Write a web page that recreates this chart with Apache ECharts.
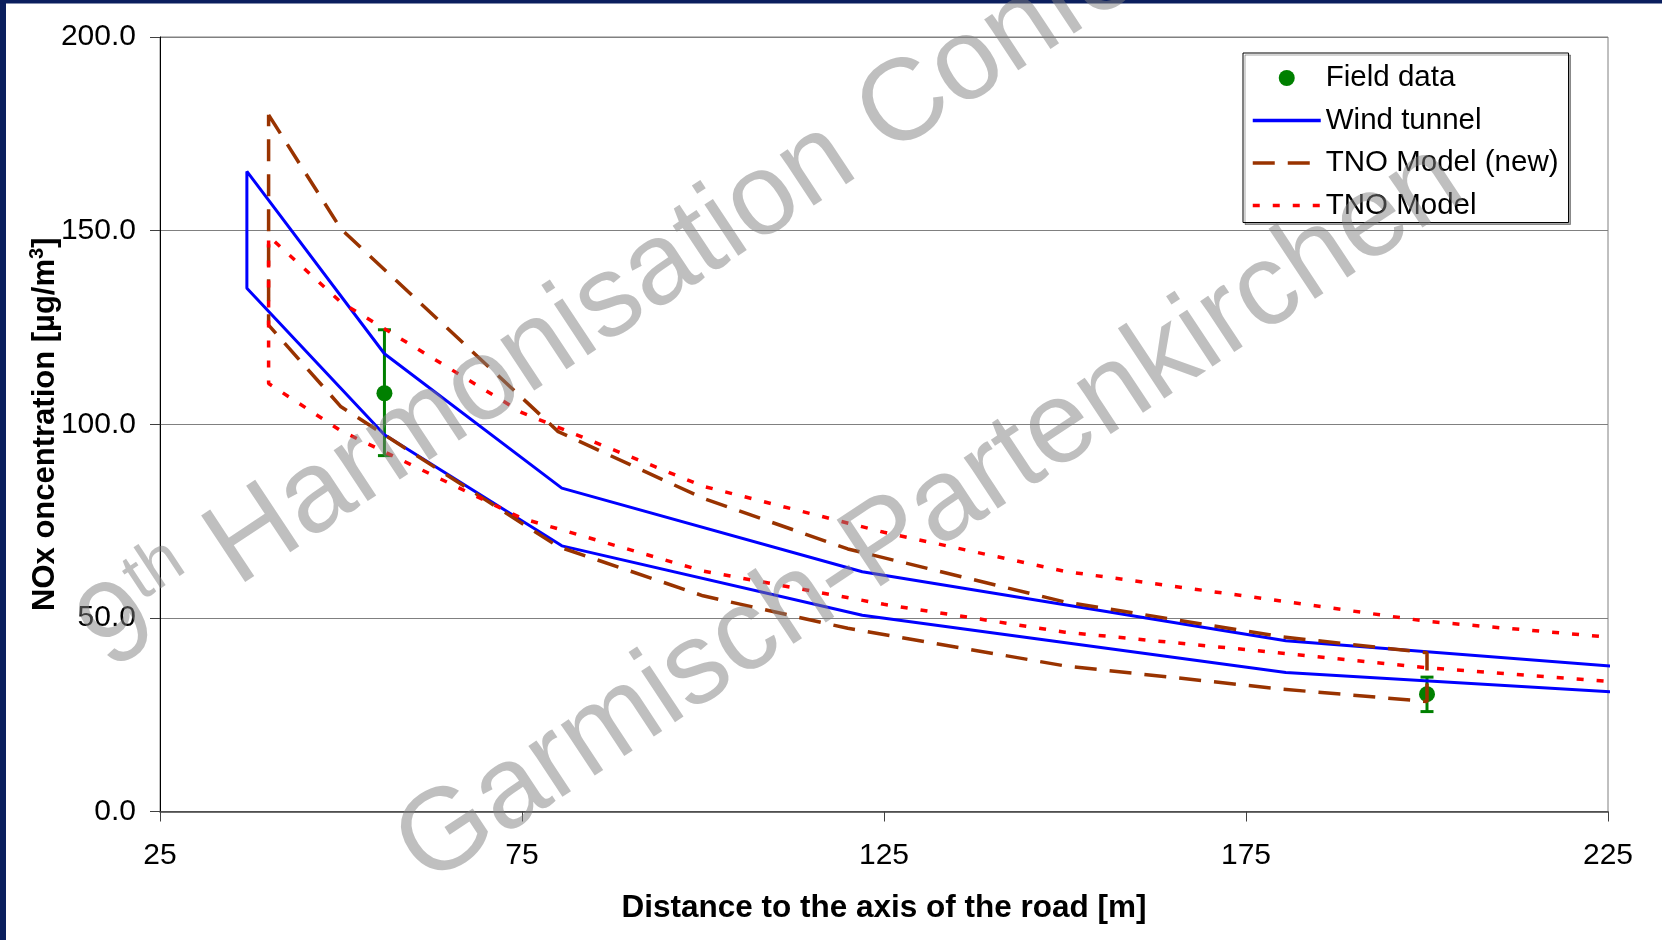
<!DOCTYPE html>
<html lang="en">
<head>
    <meta charset="UTF-8">
    <title>NOx concentration</title>
    <style>
        html, body { margin: 0; padding: 0; background: #fff; }
        #chart { width: 1662px; height: 940px; }
    </style>
</head>
<body>
<div id="chart"></div>
<script src="https://cdn.jsdelivr.net/npm/echarts@6/dist/echarts.min.js"></script>
<script>
    // field measurements with error bars
    var fieldDist = [56, 200];
    var fieldVal = [108, 30.3];
    var fieldLow = [91.9, 25.8];
    var fieldHigh = [124.4, 34.7];

    // wind tunnel band (upper / lower)
    var windDist = [37, 56, 80.5, 122, 180.5, 226.5];
    var windUpper = [165.3, 118.2, 83.5, 61.9, 44.1, 37.4];
    var windLower = [135.1, 97.3, 68.6, 50.7, 35.9, 30.8];

    // TNO model (new) band, closed at both ends
    var tnoNewDist = [40, 50, 80, 100, 120, 150, 180, 200];
    var tnoNewUpper = [179.9, 150.4, 98.1, 80.9, 67.8, 54.1, 45.1, 41.0];
    var tnoNewLower = [125.6, 104.5, 68.4, 55.7, 47.3, 37.6, 31.6, 28.4];

    // TNO model band
    var tnoDist = [40, 50, 75, 100, 125, 150, 175, 200, 226.5];
    var tnoUpper = [148.6, 131.5, 103, 84, 72.1, 62.0, 55.6, 49.1, 44.8];
    var tnoLower = [110.5, 98.3, 75.7, 62.1, 53.5, 46.3, 41.8, 37.1, 33.4];

    var xTicks = [25, 75, 125, 175, 225];
    var yTicks = [0, 50, 100, 150, 200];

    var FONT = '"Liberation Sans", Arial, sans-serif';

    // upper from right to left, then lower from left to right
    function openBand(xs, up, lo) {
        var pts = [];
        for (var i = xs.length - 1; i >= 0; i--) pts.push([xs[i], up[i]]);
        for (var j = 0; j < xs.length; j++) pts.push([xs[j], lo[j]]);
        return pts;
    }
    // upper left to right, lower right to left, back to start
    function closedBand(xs, up, lo) {
        var pts = [];
        for (var i = 0; i < xs.length; i++) pts.push([xs[i], up[i]]);
        for (var j = xs.length - 1; j >= 0; j--) pts.push([xs[j], lo[j]]);
        pts.push([xs[0], up[0]]);
        return pts;
    }

    var fieldPts = fieldDist.map(function (d, i) { return [d, fieldVal[i]]; });
    var errPts = fieldDist.map(function (d, i) { return [d, fieldLow[i], fieldHigh[i]]; });

    function renderErr(params, api) {
        var x = api.value(0);
        var p1 = api.coord([x, api.value(1)]);
        var p2 = api.coord([x, api.value(2)]);
        var w = 6.5;
        var st = {stroke: '#008000', lineWidth: 3};
        return {
            type: 'group',
            children: [
                {type: 'line', shape: {x1: p1[0], y1: p1[1], x2: p2[0], y2: p2[1]}, style: st},
                {type: 'line', shape: {x1: p1[0] - w, y1: p1[1], x2: p1[0] + w, y2: p1[1]}, style: st},
                {type: 'line', shape: {x1: p2[0] - w, y1: p2[1], x2: p2[0] + w, y2: p2[1]}, style: st}
            ]
        };
    }

    var ang = 33.5 * Math.PI / 180;
    function wm(text, x, y, size) {
        return {
            type: 'text', x: x, y: y, z: 100,
            style: {text: text, fill: 'rgba(128,128,128,0.5)', fontFamily: FONT, fontSize: size || 116,
                verticalAlign: 'middle', align: 'left'}
        };
    }

    var myChart = echarts.init(document.getElementById('chart'), null, {renderer: 'canvas'});
    var option = {
        animation: false,
        backgroundColor: '#fff',
        grid: {
            left: 160, right: 54, top: 37, bottom: 128.5,
            show: true, borderColor: '#808080', borderWidth: 1
        },
        legend: {
            orient: 'vertical',
            left: 1243,
            top: 53,
            data: [
                {name: 'Field data'},
                {name: 'Wind tunnel', itemStyle: {opacity: 0}},
                {name: 'TNO Model (new)', itemStyle: {opacity: 0}},
                {name: 'TNO Model', itemStyle: {opacity: 0}}
            ],
            itemWidth: 68,
            itemHeight: 16,
            itemGap: 10.5,
            padding: [9, 10, 1, 8],
            lineStyle: {width: 3.5},
            backgroundColor: '#fff',
            borderColor: '#000',
            borderWidth: 1,
            shadowColor: 'rgba(0,0,0,0.35)',
            shadowOffsetX: 2,
            shadowOffsetY: 2,
            textStyle: {fontSize: 29.5, fontFamily: FONT, color: '#000', lineHeight: 32}
        },
        xAxis: {
            type: 'value',
            min: 25, max: 225, interval: 50,
            name: 'Distance to the axis of the road [m]',
            nameLocation: 'middle',
            nameGap: 81,
            nameMoveOverlap: false,
            nameTextStyle: {fontSize: 31.5, fontWeight: 'bold', fontFamily: FONT, color: '#000'},
            axisLine: {onZero: false, lineStyle: {color: '#404040', width: 1.5}},
            axisTick: {length: 10, lineStyle: {color: '#404040'}},
            axisLabel: {margin: 29, fontSize: 30, fontFamily: FONT, color: '#000',
                formatter: function (v) { return xTicks.indexOf(v) >= 0 ? String(v) : ''; }},
            splitLine: {show: false}
        },
        yAxis: {
            type: 'value',
            min: 0, max: 200, interval: 50,
            name: '{a|NOx oncentration [\u00b5g/m}{b|3}{a|]}',
            nameLocation: 'middle',
            nameRotate: 90,
            nameGap: 97,
            nameMoveOverlap: false,
            nameTextStyle: {
                fontSize: 31, fontWeight: 'bold', fontFamily: FONT, color: '#000',
                rich: {
                    a: {fontSize: 31, fontWeight: 'bold', fontFamily: FONT, color: '#000', lineHeight: 36},
                    b: {fontSize: 20, fontWeight: 'bold', fontFamily: FONT, color: '#000', lineHeight: 20, verticalAlign: 'top'}
                }
            },
            axisLine: {show: true, onZero: false, lineStyle: {color: '#000', width: 1}},
            axisTick: {show: true, length: 10, lineStyle: {color: '#404040'}},
            axisLabel: {margin: 24, fontSize: 30, fontFamily: FONT, color: '#000',
                formatter: function (v) { return yTicks.indexOf(v) >= 0 ? v.toFixed(1) : ''; }},
            splitLine: {show: true, lineStyle: {color: '#808080', width: 1}}
        },
        series: [
            {
                name: 'Field data error',
                type: 'custom',
                renderItem: renderErr,
                data: errPts,
                encode: {x: 0, y: [1, 2]},
                silent: true
            },
            {
                name: 'Field data',
                type: 'scatter',
                data: fieldPts,
                symbol: 'circle',
                symbolSize: 16,
                itemStyle: {color: '#008000', opacity: 1}
            },
            {
                name: 'Wind tunnel',
                type: 'line',
                data: openBand(windDist, windUpper, windLower),
                symbol: 'none',
                clip: false,
                lineStyle: {color: '#0000ff', width: 3},
                itemStyle: {color: '#0000ff'}
            },
            {
                name: 'TNO Model (new)',
                type: 'line',
                data: closedBand(tnoNewDist, tnoNewUpper, tnoNewLower),
                symbol: 'none',
                clip: false,
                lineStyle: {color: '#993300', width: 3.5, type: [22, 13]},
                itemStyle: {color: '#993300'}
            },
            {
                name: 'TNO Model',
                type: 'line',
                data: openBand(tnoDist, tnoUpper, tnoLower),
                symbol: 'none',
                clip: false,
                lineStyle: {color: '#ff0000', width: 3.5, type: [7, 13]},
                itemStyle: {color: '#ff0000'}
            }
        ],
        graphic: {
            z: 100,
            elements: [
                {type: 'rect', left: 0, top: 0, z: 100, shape: {width: 6, height: 940}, style: {fill: '#0b1f5e'}},
                {type: 'rect', left: 0, top: 0, z: 100, shape: {width: 1662, height: 3.5}, style: {fill: '#0b1f5e'}},
                {
                    type: 'group', x: 92, y: 645, rotation: ang,
                    children: [
                        wm('9', 0, 0),
                        wm('th', 65, -28, 68),
                        wm('Harmonisation Conference', 153, 0)
                    ]
                },
                {
                    type: 'group', x: 409, y: 860, rotation: ang,
                    children: [
                        wm('Garmisch-Partenkirchen', 0, 0)
                    ]
                }
            ]
        }
    };
    myChart.setOption(option);
</script>
</body>
</html>
